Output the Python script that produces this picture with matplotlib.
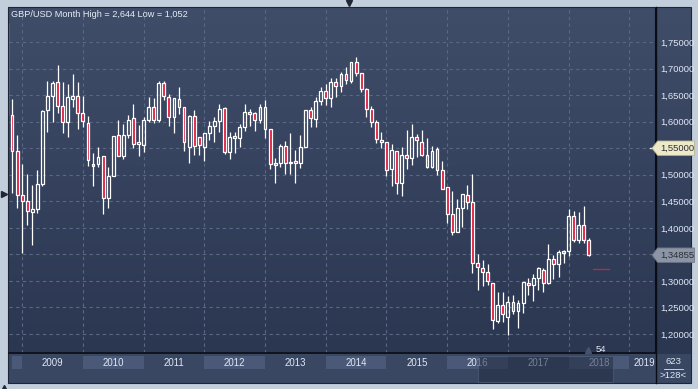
import numpy as np
import pandas as pd
import matplotlib
matplotlib.use("Agg")
import matplotlib.pyplot as plt
from matplotlib.patches import Rectangle, Polygon
from matplotlib.transforms import blended_transform_factory

plt.rcParams['font.family'] = ['Liberation Sans', 'DejaVu Sans']

# monthly GBP/USD candles, Oct 2008 .. May 2018
months = pd.period_range('2008-10', '2018-05', freq='M')

opens = [1.785, 1.612, 1.545,
         1.461, 1.451, 1.429, 1.435, 1.482, 1.621, 1.648, 1.674, 1.630, 1.600, 1.642, 1.648,
         1.617, 1.597, 1.517, 1.520, 1.535, 1.456, 1.498, 1.575, 1.536, 1.575, 1.606, 1.557,
         1.556, 1.604, 1.627, 1.604, 1.672, 1.647, 1.608, 1.642, 1.627, 1.553, 1.611, 1.571,
         1.553, 1.578, 1.592, 1.602, 1.625, 1.542, 1.572, 1.570, 1.589, 1.618, 1.616, 1.604,
         1.627, 1.587, 1.519, 1.522, 1.555, 1.522, 1.524, 1.523, 1.553, 1.621, 1.605, 1.638,
         1.657, 1.645, 1.675, 1.668, 1.689, 1.677, 1.712, 1.691, 1.661, 1.624, 1.600, 1.565,
         1.561, 1.511, 1.544, 1.484, 1.537, 1.531, 1.572, 1.562, 1.537, 1.515, 1.549, 1.508,
         1.476, 1.426, 1.393, 1.438, 1.462, 1.449, 1.333, 1.324, 1.316, 1.296, 1.225, 1.255,
         1.232, 1.260, 1.243, 1.258, 1.296, 1.292, 1.305, 1.320, 1.296, 1.342, 1.331, 1.354,
         1.357, 1.422, 1.378, 1.405, 1.378]
highs = [1.790, 1.643, 1.575,
         1.520, 1.501, 1.481, 1.509, 1.622, 1.677, 1.677, 1.707, 1.675, 1.671, 1.690, 1.675,
         1.648, 1.611, 1.541, 1.553, 1.535, 1.515, 1.573, 1.603, 1.596, 1.613, 1.633, 1.594,
         1.609, 1.646, 1.644, 1.677, 1.677, 1.652, 1.645, 1.665, 1.628, 1.612, 1.622, 1.572,
         1.579, 1.601, 1.609, 1.634, 1.628, 1.581, 1.580, 1.596, 1.633, 1.623, 1.619, 1.633,
         1.641, 1.587, 1.531, 1.557, 1.564, 1.578, 1.547, 1.575, 1.621, 1.628, 1.647, 1.666,
         1.670, 1.683, 1.683, 1.693, 1.702, 1.712, 1.722, 1.691, 1.664, 1.629, 1.603, 1.581,
         1.561, 1.557, 1.544, 1.552, 1.584, 1.595, 1.577, 1.584, 1.569, 1.554, 1.553, 1.526,
         1.476, 1.469, 1.454, 1.464, 1.481, 1.502, 1.351, 1.339, 1.331, 1.296, 1.280, 1.280,
         1.271, 1.274, 1.264, 1.298, 1.305, 1.314, 1.327, 1.324, 1.370, 1.349, 1.358, 1.358,
         1.436, 1.431, 1.429, 1.441, 1.380]
lows = [1.525, 1.466, 1.437,
        1.353, 1.405, 1.368, 1.428, 1.478, 1.581, 1.600, 1.617, 1.579, 1.572, 1.628, 1.586,
        1.590, 1.517, 1.479, 1.514, 1.426, 1.437, 1.497, 1.535, 1.530, 1.569, 1.550, 1.536,
        1.542, 1.599, 1.598, 1.599, 1.641, 1.592, 1.579, 1.614, 1.545, 1.522, 1.537, 1.537,
        1.525, 1.565, 1.562, 1.581, 1.539, 1.529, 1.541, 1.552, 1.583, 1.592, 1.582, 1.598,
        1.569, 1.510, 1.485, 1.514, 1.501, 1.502, 1.484, 1.512, 1.553, 1.590, 1.589, 1.631,
        1.631, 1.627, 1.647, 1.656, 1.671, 1.673, 1.686, 1.655, 1.608, 1.589, 1.560, 1.550,
        1.497, 1.478, 1.464, 1.460, 1.511, 1.518, 1.534, 1.536, 1.513, 1.513, 1.499, 1.474,
        1.410, 1.387, 1.393, 1.402, 1.435, 1.315, 1.283, 1.290, 1.292, 1.209, 1.221, 1.222,
        1.199, 1.237, 1.211, 1.239, 1.274, 1.262, 1.283, 1.280, 1.294, 1.304, 1.307, 1.333,
        1.347, 1.374, 1.372, 1.372, 1.347]
closes = [1.612, 1.545, 1.461,
          1.451, 1.432, 1.435, 1.482, 1.620, 1.648, 1.672, 1.630, 1.600, 1.646, 1.648, 1.617,
          1.601, 1.528, 1.519, 1.533, 1.456, 1.498, 1.573, 1.535, 1.575, 1.604, 1.557, 1.561,
          1.604, 1.627, 1.604, 1.672, 1.648, 1.609, 1.644, 1.627, 1.561, 1.611, 1.554, 1.556,
          1.578, 1.592, 1.602, 1.624, 1.542, 1.572, 1.571, 1.589, 1.618, 1.616, 1.604, 1.627,
          1.587, 1.520, 1.521, 1.555, 1.522, 1.524, 1.523, 1.552, 1.621, 1.606, 1.639, 1.657,
          1.645, 1.675, 1.668, 1.689, 1.678, 1.712, 1.691, 1.661, 1.623, 1.600, 1.567, 1.561,
          1.508, 1.547, 1.484, 1.537, 1.531, 1.572, 1.565, 1.537, 1.515, 1.544, 1.508, 1.474,
          1.427, 1.393, 1.438, 1.464, 1.449, 1.333, 1.326, 1.316, 1.300, 1.226, 1.255, 1.238,
          1.260, 1.243, 1.258, 1.298, 1.292, 1.305, 1.324, 1.296, 1.342, 1.331, 1.354, 1.356,
          1.422, 1.378, 1.405, 1.378, 1.349]

price_ticks = [1.20, 1.25, 1.30, 1.35, 1.40, 1.45, 1.50, 1.55, 1.60, 1.65, 1.70, 1.75]
years = list(range(2008, 2020))
last_price = 1.34855
marked_price = 1.55
red_level = 1.3225
title = "GBP/USD Month High = 2,644 Low = 1,052"
bar_count = "54"
corner_top = "623"
corner_bot = ">128<"

# colours
frame_bg = '#c3cedc'
top_col = np.array([64, 77, 105]) / 255.
bot_col = np.array([43, 55, 81]) / 255.
strip_col = '#3a4763'
box_col = '#4a5977'
grid_col = '#5a6886'
txt_col = '#dfe8f5'
red = '#e0163a'

W, H = 698, 389
fig = plt.figure(figsize=(W / 100, H / 100), dpi=100)
fig.patch.set_facecolor(frame_bg)

# background layer in pixel coordinates
bg = fig.add_axes([0, 0, 1, 1], zorder=0)
bg.set_xlim(0, W)
bg.set_ylim(H, 0)
bg.axis('off')
grad = np.linspace(0, 1, 256)[:, None, None] * (bot_col - top_col) + top_col
grad = np.repeat(grad, 2, axis=1)
bg.imshow(grad, extent=(8, 691, 354, 7), aspect='auto', zorder=0)
bg.add_patch(Rectangle((8, 354), 683, 29, facecolor=strip_col, edgecolor='none', zorder=1))
bg.add_patch(Rectangle((8, 7), 683, 376, facecolor='none', edgecolor='#1e2535', lw=0.8, zorder=2))
bg.plot([655.5, 655.5], [7, 383], color='#0a0d14', lw=1.0, zorder=3)
bg.plot([3.5], [194], marker='>', color='#1f2636', ms=5, zorder=3)
bg.plot([349], [2.5], marker='v', color='#1f2636', ms=5, zorder=3)
bg.plot([4], [388], marker='^', color='#1f2636', ms=5, zorder=3)

# main price axes
ax = fig.add_axes([9 / W, 36 / H, 646 / W, 345 / H], zorder=1)
ax.set_facecolor('none')
x = np.array([(p.year - 2009) * 12 + p.month - 1 for p in months], dtype=float)
o = np.array(opens)
h = np.array(highs)
l = np.array(lows)
c = np.array(closes)
top = np.maximum(o, c)
bottom = np.minimum(o, c)
body = np.maximum(top - bottom, 0.0035)
mid = (top + bottom) / 2
up = c >= o

ax.vlines(x, top, h, color='white', lw=0.9, zorder=3)
ax.vlines(x, l, bottom, color='white', lw=0.9, zorder=3)
ax.bar(x, body, bottom=mid - body / 2, width=0.56,
       color=np.where(up, 'none', red), edgecolor='white', linewidth=0.9, zorder=4)

ax.set_xlim(-2.6, 125.07)
ax.set_ylim(1.1643, 1.8140)

# grid
for t in price_ticks:
    ax.axhline(t, color=grid_col, lw=0.8, ls=(0, (3, 3)), zorder=1)
jan = [(y - 2009) * 12 for y in years[1:]]
for j in jan:
    ax.axvline(j, color=grid_col, lw=0.8, ls=(0, (3, 3)), zorder=1)

ax.set_xticks([])
ax.yaxis.tick_right()
ax.set_yticks(price_ticks)
ax.set_yticklabels([('%.5f' % t).replace('.', ',') for t in price_ticks])
ax.tick_params(axis='y', length=0, pad=3.5, labelsize=6.8, labelcolor=txt_col)
for side in ['top', 'left']:
    ax.spines[side].set_visible(False)
ax.spines['right'].set_color('#0a0d14')
ax.spines['bottom'].set_color('#0a0d14')
ax.spines['bottom'].set_linewidth(1.2)

# year boxes and labels under the plot
bt = blended_transform_factory(ax.transData, ax.transAxes)
for y in years:
    x0 = (y - 2009) * 12
    if y % 2 == 0:
        ax.add_patch(Rectangle((max(x0, -2.0), -0.0464), min(x0 + 12, 125.0) - max(x0, -2.0), 0.0377,
                               transform=bt, facecolor=box_col, edgecolor='none',
                               clip_on=False, zorder=2))
    if 2009 <= y <= 2018:
        ax.text(x0 + 6, -0.028, str(y), transform=bt, ha='center', va='center',
                fontsize=6.9, color=txt_col, clip_on=False)
ax.text(122.9, -0.028, str(years[-1]), transform=bt, ha='center', va='center',
        fontsize=6.9, color=txt_col, clip_on=False)

# red level mark
ax.plot([112.8, 116.0], [red_level, red_level], color=red, lw=0.9, zorder=4)

# price tags on the right axis
yt = blended_transform_factory(ax.transAxes, ax.transData)
hh = 7.2 / 531
for val, fc, ec in [(marked_price, '#eeeac8', '#b8b490'), (last_price, '#8c95a5', '#6d7585')]:
    tag = Polygon([(0.9955, val), (1.0040, val + hh), (1.0610, val + hh),
                   (1.0610, val - hh), (1.0040, val - hh)], closed=True,
                  transform=yt, facecolor=fc, edgecolor=ec, lw=0.6, clip_on=False, zorder=6)
    ax.add_patch(tag)
    ax.text(1.0075, val, ('%.5f' % val).replace('.', ','), transform=yt, ha='left', va='center',
            fontsize=6.8, color='#2a2f3a', clip_on=False, zorder=7)
ax.plot([0.993, 1.0], [marked_price, marked_price], transform=yt, color='#e8eef8', lw=1.0,
        clip_on=False, zorder=5)

# overlay: title, scroll thumb, counters
ov = fig.add_axes([0, 0, 1, 1], zorder=2)
ov.set_xlim(0, W)
ov.set_ylim(H, 0)
ov.axis('off')
ov.text(11, 14, title, ha='left', va='center', fontsize=6.6, color='#e6eef8')
ov.add_patch(Rectangle((478, 355.5), 135, 26, facecolor='#222c42', alpha=0.55,
                       edgecolor='#56627c', lw=0.8))
ov.plot([588], [350], marker='^', color='#465270', ms=4.5)
ov.text(601, 349, bar_count, ha='center', va='center', fontsize=6.8, color=txt_col)
ov.text(673, 362, corner_top, ha='center', va='center', fontsize=6.8, color=txt_col)
ov.plot([664, 683], [368.5, 368.5], color=txt_col, lw=0.6)
ov.text(673, 375, corner_bot, ha='center', va='center', fontsize=6.8, color=txt_col)

fig.savefig('out.png', dpi=100, facecolor=fig.get_facecolor())
